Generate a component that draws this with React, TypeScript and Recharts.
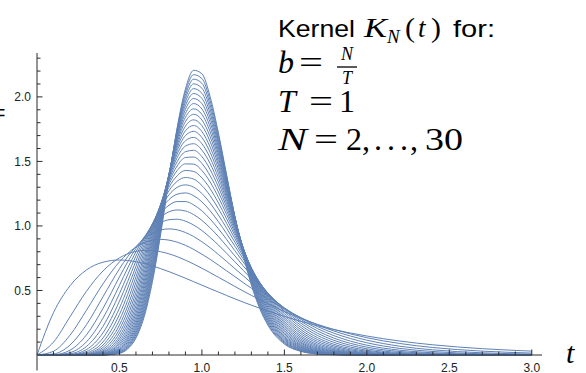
import { LineChart, Line, XAxis, YAxis, ReferenceLine } from "recharts";

// sample points in t
const T = [0, 0.1, 0.2, 0.3, 0.4, 0.5, 0.55, 0.6, 0.65, 0.7, 0.75, 0.8, 0.85, 0.9, 0.95, 1.0, 1.05, 1.1, 1.15, 1.2, 1.25, 1.3, 1.35, 1.4, 1.5, 1.6, 1.7, 1.8, 2.0, 2.2, 2.4, 2.7, 3.0];

// K_N(t), one list per N
const K2 = [0, 0.328, 0.536, 0.659, 0.719, 0.736, 0.732, 0.723, 0.709, 0.69, 0.669, 0.646, 0.621, 0.595, 0.568, 0.541, 0.514, 0.488, 0.461, 0.435, 0.41, 0.386, 0.363, 0.341, 0.299, 0.261, 0.227, 0.197, 0.147, 0.108, 0.079, 0.049, 0.03];
const K3 = [0, 0.1, 0.296, 0.494, 0.651, 0.753, 0.784, 0.803, 0.811, 0.81, 0.8, 0.784, 0.762, 0.735, 0.705, 0.672, 0.638, 0.602, 0.567, 0.531, 0.496, 0.462, 0.429, 0.397, 0.337, 0.284, 0.238, 0.198, 0.134, 0.089, 0.058, 0.03, 0.015];
const K4 = [0, 0.029, 0.153, 0.347, 0.551, 0.722, 0.787, 0.836, 0.87, 0.89, 0.896, 0.89, 0.874, 0.85, 0.818, 0.781, 0.741, 0.697, 0.652, 0.607, 0.561, 0.517, 0.474, 0.433, 0.357, 0.29, 0.233, 0.186, 0.115, 0.068, 0.04, 0.017, 0.007];
const K5 = [0, 0.008, 0.077, 0.235, 0.451, 0.668, 0.762, 0.84, 0.901, 0.944, 0.969, 0.977, 0.97, 0.949, 0.918, 0.877, 0.831, 0.779, 0.725, 0.669, 0.614, 0.559, 0.506, 0.456, 0.365, 0.286, 0.221, 0.169, 0.095, 0.051, 0.027, 0.009, 0.003];
const K6 = [0, 0.002, 0.037, 0.156, 0.361, 0.605, 0.722, 0.826, 0.913, 0.98, 1.025, 1.048, 1.052, 1.037, 1.007, 0.964, 0.911, 0.852, 0.788, 0.722, 0.656, 0.591, 0.529, 0.47, 0.364, 0.276, 0.205, 0.15, 0.076, 0.037, 0.017, 0.005, 0.001];
const K7 = [0, 0.001, 0.018, 0.102, 0.285, 0.54, 0.674, 0.8, 0.912, 1.002, 1.068, 1.109, 1.124, 1.116, 1.088, 1.043, 0.985, 0.918, 0.844, 0.768, 0.691, 0.617, 0.545, 0.478, 0.359, 0.262, 0.187, 0.131, 0.061, 0.027, 0.011, 0.003, 0.001];
const K8 = [0, 0, 0.009, 0.066, 0.222, 0.476, 0.622, 0.767, 0.9, 1.014, 1.101, 1.16, 1.189, 1.189, 1.163, 1.117, 1.053, 0.978, 0.895, 0.808, 0.721, 0.636, 0.555, 0.48, 0.349, 0.247, 0.169, 0.114, 0.048, 0.019, 0.007, 0.001, 0];
const K9 = [0, 0, 0.004, 0.042, 0.172, 0.417, 0.57, 0.729, 0.882, 1.017, 1.126, 1.204, 1.246, 1.256, 1.234, 1.186, 1.117, 1.033, 0.94, 0.843, 0.745, 0.65, 0.561, 0.478, 0.338, 0.23, 0.152, 0.098, 0.037, 0.013, 0.004, 0.001, 0];
const K10 = [0, 0, 0.002, 0.027, 0.132, 0.363, 0.519, 0.688, 0.858, 1.014, 1.144, 1.241, 1.299, 1.318, 1.3, 1.251, 1.177, 1.085, 0.982, 0.874, 0.765, 0.661, 0.563, 0.473, 0.324, 0.213, 0.135, 0.083, 0.029, 0.009, 0.003, 0, 0];
const K11 = [0, 0, 0.001, 0.017, 0.101, 0.314, 0.47, 0.647, 0.831, 1.006, 1.157, 1.273, 1.346, 1.375, 1.363, 1.313, 1.234, 1.134, 1.02, 0.901, 0.782, 0.668, 0.562, 0.466, 0.309, 0.196, 0.12, 0.071, 0.022, 0.006, 0.002, 0, 0];
const K12 = [0, 0, 0, 0.011, 0.077, 0.27, 0.423, 0.605, 0.801, 0.993, 1.164, 1.3, 1.389, 1.43, 1.422, 1.372, 1.288, 1.179, 1.055, 0.925, 0.795, 0.672, 0.559, 0.457, 0.294, 0.18, 0.106, 0.06, 0.017, 0.004, 0.001, 0, 0];
const K13 = [0, 0, 0, 0.007, 0.059, 0.232, 0.38, 0.564, 0.769, 0.977, 1.168, 1.322, 1.429, 1.481, 1.479, 1.429, 1.34, 1.222, 1.088, 0.946, 0.806, 0.674, 0.553, 0.447, 0.279, 0.165, 0.093, 0.05, 0.013, 0.003, 0.001, 0, 0];
const K14 = [0, 0, 0, 0.004, 0.044, 0.199, 0.341, 0.524, 0.737, 0.959, 1.167, 1.341, 1.465, 1.53, 1.534, 1.484, 1.389, 1.263, 1.118, 0.965, 0.815, 0.674, 0.547, 0.436, 0.263, 0.15, 0.081, 0.042, 0.01, 0.002, 0, 0, 0];
const K15 = [0, 0, 0, 0.003, 0.033, 0.17, 0.304, 0.486, 0.704, 0.938, 1.164, 1.357, 1.498, 1.575, 1.586, 1.537, 1.437, 1.302, 1.146, 0.982, 0.822, 0.672, 0.538, 0.423, 0.248, 0.137, 0.071, 0.035, 0.008, 0.001, 0, 0, 0];
const K16 = [0, 0, 0, 0.002, 0.025, 0.144, 0.271, 0.449, 0.671, 0.916, 1.158, 1.37, 1.529, 1.619, 1.637, 1.587, 1.483, 1.339, 1.172, 0.997, 0.826, 0.669, 0.529, 0.41, 0.233, 0.124, 0.062, 0.03, 0.006, 0.001, 0, 0, 0];
const K17 = [0, 0, 0, 0.001, 0.019, 0.123, 0.241, 0.415, 0.638, 0.892, 1.15, 1.381, 1.557, 1.66, 1.686, 1.637, 1.527, 1.374, 1.196, 1.01, 0.83, 0.664, 0.519, 0.397, 0.219, 0.112, 0.054, 0.025, 0.004, 0.001, 0, 0, 0];
const K18 = [0, 0, 0, 0.001, 0.014, 0.104, 0.214, 0.382, 0.605, 0.868, 1.14, 1.388, 1.582, 1.7, 1.733, 1.685, 1.57, 1.408, 1.218, 1.021, 0.831, 0.658, 0.508, 0.384, 0.205, 0.101, 0.047, 0.021, 0.003, 0, 0, 0, 0];
const K19 = [0, 0, 0, 0, 0.011, 0.088, 0.19, 0.351, 0.574, 0.843, 1.128, 1.394, 1.606, 1.737, 1.778, 1.731, 1.611, 1.44, 1.239, 1.031, 0.832, 0.651, 0.497, 0.37, 0.192, 0.092, 0.041, 0.017, 0.003, 0, 0, 0, 0];
const K20 = [0, 0, 0, 0, 0.008, 0.075, 0.168, 0.323, 0.543, 0.817, 1.115, 1.398, 1.627, 1.773, 1.822, 1.777, 1.652, 1.471, 1.259, 1.04, 0.831, 0.644, 0.485, 0.356, 0.179, 0.082, 0.035, 0.014, 0.002, 0, 0, 0, 0];
const K21 = [0, 0, 0, 0, 0.006, 0.063, 0.148, 0.296, 0.514, 0.791, 1.1, 1.4, 1.647, 1.808, 1.865, 1.821, 1.691, 1.5, 1.277, 1.047, 0.829, 0.636, 0.473, 0.343, 0.167, 0.074, 0.031, 0.012, 0.001, 0, 0, 0, 0];
const K22 = [0, 0, 0, 0, 0.004, 0.053, 0.131, 0.271, 0.485, 0.765, 1.085, 1.4, 1.665, 1.841, 1.907, 1.864, 1.729, 1.529, 1.294, 1.053, 0.826, 0.627, 0.461, 0.329, 0.155, 0.067, 0.026, 0.01, 0.001, 0, 0, 0, 0];
const K23 = [0, 0, 0, 0, 0.003, 0.045, 0.116, 0.248, 0.457, 0.74, 1.068, 1.399, 1.682, 1.872, 1.948, 1.906, 1.766, 1.556, 1.31, 1.058, 0.822, 0.617, 0.448, 0.316, 0.144, 0.06, 0.023, 0.008, 0.001, 0, 0, 0, 0];
const K24 = [0, 0, 0, 0, 0.002, 0.038, 0.102, 0.227, 0.431, 0.714, 1.051, 1.397, 1.697, 1.903, 1.987, 1.948, 1.802, 1.582, 1.325, 1.062, 0.818, 0.607, 0.436, 0.303, 0.134, 0.054, 0.02, 0.007, 0.001, 0, 0, 0, 0];
const K25 = [0, 0, 0, 0, 0.002, 0.032, 0.09, 0.208, 0.406, 0.689, 1.033, 1.393, 1.71, 1.932, 2.026, 1.988, 1.837, 1.607, 1.338, 1.065, 0.813, 0.597, 0.423, 0.29, 0.125, 0.048, 0.017, 0.005, 0, 0, 0, 0, 0];
const K26 = [0, 0, 0, 0, 0.001, 0.027, 0.079, 0.189, 0.382, 0.664, 1.015, 1.389, 1.723, 1.96, 2.064, 2.028, 1.871, 1.632, 1.351, 1.067, 0.807, 0.586, 0.41, 0.278, 0.116, 0.043, 0.015, 0.005, 0, 0, 0, 0, 0];
const K27 = [0, 0, 0, 0, 0.001, 0.022, 0.069, 0.173, 0.359, 0.639, 0.996, 1.383, 1.734, 1.987, 2.101, 2.067, 1.905, 1.655, 1.363, 1.069, 0.801, 0.575, 0.398, 0.266, 0.107, 0.039, 0.013, 0.004, 0, 0, 0, 0, 0];
const K28 = [0, 0, 0, 0, 0.001, 0.019, 0.061, 0.158, 0.337, 0.615, 0.977, 1.376, 1.744, 2.013, 2.137, 2.105, 1.938, 1.678, 1.374, 1.069, 0.794, 0.564, 0.386, 0.254, 0.099, 0.035, 0.011, 0.003, 0, 0, 0, 0, 0];
const K29 = [0, 0, 0, 0, 0.001, 0.016, 0.054, 0.144, 0.317, 0.592, 0.958, 1.369, 1.753, 2.038, 2.172, 2.142, 1.97, 1.7, 1.384, 1.069, 0.787, 0.553, 0.373, 0.242, 0.092, 0.031, 0.009, 0.003, 0, 0, 0, 0, 0];
const K30 = [0, 0, 0, 0, 0, 0.013, 0.047, 0.131, 0.297, 0.569, 0.938, 1.36, 1.761, 2.061, 2.206, 2.179, 2.001, 1.721, 1.394, 1.068, 0.779, 0.542, 0.361, 0.231, 0.085, 0.028, 0.008, 0.002, 0, 0, 0, 0, 0];

const CURVES: [number, number[]][] = [
  [2, K2], [3, K3], [4, K4], [5, K5], [6, K6], [7, K7], [8, K8], [9, K9], [10, K10],
  [11, K11], [12, K12], [13, K13], [14, K14], [15, K15], [16, K16], [17, K17], [18, K18],
  [19, K19], [20, K20], [21, K21], [22, K22], [23, K23], [24, K24], [25, K25], [26, K26],
  [27, K27], [28, K28], [29, K29], [30, K30],
];

// ticks (minor every 0.1, labels on the majors)
const X_TICKS = [0.1, 0.2, 0.3, 0.4, 0.5, 0.6, 0.7, 0.8, 0.9, 1.0, 1.1, 1.2, 1.3, 1.4, 1.5, 1.6, 1.7, 1.8, 1.9, 2.0, 2.1, 2.2, 2.3, 2.4, 2.5, 2.6, 2.7, 2.8, 2.9, 3.0];
const X_LABELS = [0.5, 1.0, 1.5, 2.0, 2.5, 3.0];
const Y_TICKS = [0.1, 0.2, 0.3, 0.4, 0.5, 0.6, 0.7, 0.8, 0.9, 1.0, 1.1, 1.2, 1.3, 1.4, 1.5, 1.6, 1.7, 1.8, 1.9, 2.0, 2.1, 2.2, 2.3];
const Y_LABELS = [0.5, 1.0, 1.5, 2.0];

const rows = T.map((t, i) => {
  const row: Record<string, number> = { t };
  CURVES.forEach(([n, ys]) => {
    row[`n${n}`] = ys[i];
  });
  return row;
});

const BLUE = "#5e81b5";
const AXIS = "#2b2b2b";
const SANS = "Liberation Sans, Arial, Helvetica, sans-serif";
const SERIF = "Liberation Serif, Times New Roman, serif";

const isMajor = (list: number[], v: number) => list.some((m) => Math.abs(m - v) < 1e-6);

const YTick = (props: any) => {
  const { x, y, payload } = props;
  const major = isMajor(Y_LABELS, payload.value);
  return (
    <g>
      <line x1={x} x2={x + (major ? 5.5 : 3.5)} y1={y} y2={y} stroke={AXIS} strokeWidth={1} />
      {major && (
        <text x={x - 6} y={y + 4.2} textAnchor="end" style={{ fontSize: 12, fontFamily: SANS }} fill="#222">
          {payload.value.toFixed(1)}
        </text>
      )}
    </g>
  );
};

const XTick = (props: any) => {
  const { x, y, payload } = props;
  const major = isMajor(X_LABELS, payload.value);
  return (
    <g>
      <line x1={x} x2={x} y1={y} y2={y - (major ? 5.5 : 3.5)} stroke={AXIS} strokeWidth={1} />
      {major && (
        <text x={x} y={y + 17} textAnchor="middle" style={{ fontSize: 12, fontFamily: SANS }} fill="#222">
          {payload.value.toFixed(1)}
        </text>
      )}
    </g>
  );
};

const serif = (size: number, italic = false) => ({
  fontSize: size,
  fontFamily: SERIF,
  fontStyle: italic ? "italic" : "normal",
});

export default function App() {
  return (
    <div style={{ position: "absolute", left: 0, top: 0, width: 586, height: 373, background: "#fff", overflow: "hidden" }}>
      <LineChart width={586} height={373} data={rows} margin={{ top: 53, right: 44, bottom: 0, left: 0 }}>
        <XAxis
          type="number"
          dataKey="t"
          domain={[0, 3.062]}
          ticks={X_TICKS}
          interval={0}
          height={18}
          tickLine={false}
          tickSize={0}
          tickMargin={0}
          axisLine={{ stroke: AXIS, strokeWidth: 1 }}
          tick={(p: any) => <XTick {...p} />}
        />
        <YAxis
          type="number"
          domain={[0, 2.34]}
          ticks={Y_TICKS}
          interval={0}
          width={37}
          tickLine={false}
          tickSize={0}
          tickMargin={0}
          axisLine={{ stroke: AXIS, strokeWidth: 1 }}
          tick={(p: any) => <YTick {...p} />}
        />
        <ReferenceLine
          segment={[{ x: 0, y: 0 }, { x: 0, y: -0.12 }]}
          stroke={AXIS}
          strokeWidth={1}
          ifOverflow="visible"
        />
        {CURVES.map(([n]) => (
          <Line
            key={n}
            type="monotone"
            dataKey={`n${n}`}
            stroke={BLUE}
            strokeWidth={1}
            dot={false}
            activeDot={false}
            isAnimationActive={false}
          />
        ))}
      </LineChart>

      <svg width={586} height={373} style={{ position: "absolute", left: 0, top: 0, pointerEvents: "none" }}>
        {/* cut-off axis label on the left */}
        <text x={-11} y={123} style={serif(30)}>=</text>

        {/* Kernel K_N(t) for: */}
        <text x={278} y={37} style={{ fontSize: 24, fontFamily: SANS }} textLength={77} lengthAdjust="spacingAndGlyphs">Kernel</text>
        <text x={364} y={37} style={serif(27, true)} textLength={23} lengthAdjust="spacingAndGlyphs">K</text>
        <text x={387} y={43} style={serif(19, true)}>N</text>
        <text x={405} y={37} style={serif(27)} textLength={10} lengthAdjust="spacingAndGlyphs">(</text>
        <text x={418} y={37} style={serif(27, true)}>t</text>
        <text x={431} y={37} style={serif(27)} textLength={10} lengthAdjust="spacingAndGlyphs">)</text>
        <text x={453} y={37} style={{ fontSize: 24, fontFamily: SANS }} textLength={42} lengthAdjust="spacingAndGlyphs">for:</text>

        {/* b = N/T */}
        <text x={278} y={73} style={serif(32, true)}>b</text>
        <text x={299} y={73} style={serif(32)} textLength={24} lengthAdjust="spacingAndGlyphs">=</text>
        <text x={347} y={60} style={serif(18, true)} textAnchor="middle">N</text>
        <line x1={337} x2={357} y1={67} y2={67} stroke="#000" strokeWidth={1.3} />
        <text x={347} y={84} style={serif(18, true)} textAnchor="middle">T</text>

        {/* T = 1 */}
        <text x={278} y={112} style={serif(32, true)}>T</text>
        <text x={309} y={112} style={serif(32)} textLength={24} lengthAdjust="spacingAndGlyphs">=</text>
        <text x={339} y={112} style={serif(32)}>1</text>

        {/* N = 2, ..., 30 */}
        <text x={278} y={150} style={serif(32, true)} textLength={29} lengthAdjust="spacingAndGlyphs">N</text>
        <text x={314} y={150} style={serif(32)} textLength={24} lengthAdjust="spacingAndGlyphs">=</text>
        <text x={346} y={150} style={serif(32)}>2</text>
        <text x={362} y={150} style={serif(32)}>,</text>
        <text x={374} y={150} style={serif(32)}>.</text>
        <text x={387} y={150} style={serif(32)}>.</text>
        <text x={400} y={150} style={serif(32)}>.</text>
        <text x={410} y={150} style={serif(32)}>,</text>
        <text x={425} y={150} style={serif(32)} textLength={38} lengthAdjust="spacingAndGlyphs">30</text>

        {/* axis label */}
        <text x={566} y={363} style={serif(30, true)}>t</text>
      </svg>
    </div>
  );
}
